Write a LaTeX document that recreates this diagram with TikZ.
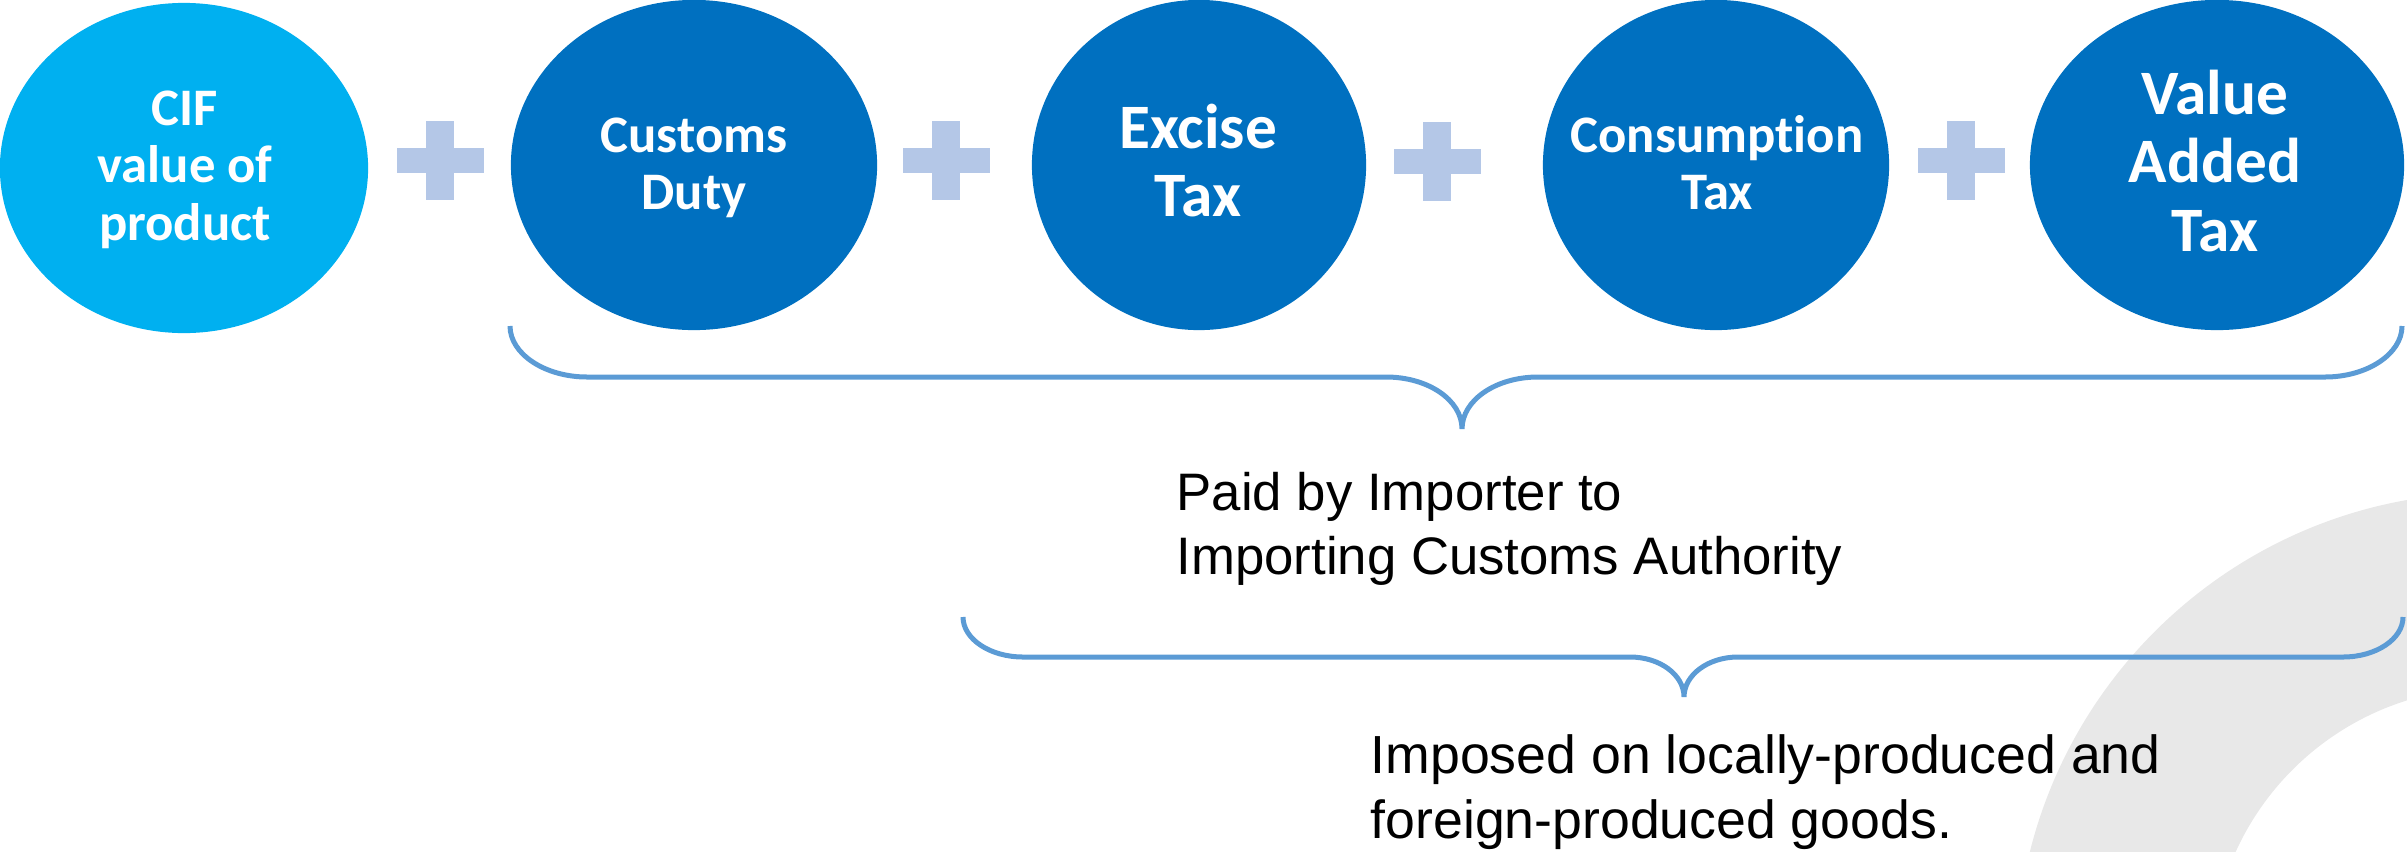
\documentclass[tikz,border=0pt]{standalone}
\usepackage{fontspec}
\usetikzlibrary{shapes.geometric}
\newfontfamily\carl{Carlito}[Ligatures=NoCommon]
\newfontfamily\arialf{Liberation Sans}
\definecolor{cifblue}{HTML}{00B0F0}
\definecolor{taxblue}{HTML}{0070C0}
\definecolor{plusblue}{HTML}{B4C7E7}
\definecolor{braceblue}{HTML}{5B9BD5}
\definecolor{arcgrey}{HTML}{E8E8E8}
\begin{document}
\begin{tikzpicture}[x=0.01cm,y=-0.01cm,
  bubble/.style={ellipse, draw=none, inner sep=0pt, minimum height=3.3cm},
  btext/.style={text=white, inner sep=0pt, anchor=base, font=\carl\bfseries\fontsize{15pt}{16.4pt}\selectfont},
  bigtext/.style={btext, font=\carl\bfseries\fontsize{18pt}{19.6pt}\selectfont},
  note/.style={text=black, inner sep=0pt, anchor=base west, font=\arialf\fontsize{15pt}{18.3pt}\selectfont},
  bracestroke/.style={draw=braceblue, line width=0.05cm},
  plussign/.pic={\fill[plusblue] (-43.5,-12.5) rectangle (43.5,12.5);
                 \fill[plusblue] (-14,-39.5) rectangle (14,39.5);}]
\useasboundingbox (0,0) rectangle (2407,851);
% background ring
\begin{scope}
  \clip (0,0) rectangle (2407,851);
  \fill[arcgrey, even odd rule] (2490,967) circle[radius=4.74cm] (2490,967) circle[radius=2.79cm];
\end{scope}
% bubbles
\node[bubble, fill=cifblue, minimum width=3.68cm] (e1) at (184,168) {};
\node[bubble, fill=taxblue, minimum width=3.66cm] (e2) at (694,165) {};
\node[bubble, fill=taxblue, minimum width=3.34cm] (e3) at (1199,165) {};
\node[bubble, fill=taxblue, minimum width=3.46cm] (e4) at (1716,165) {};
\node[bubble, fill=taxblue, minimum width=3.74cm] (e5) at (2217,165) {};
\node[btext] (t1) at (185,125) {\begin{tabular}[t]{@{}c@{}}CIF\\value of\\product\end{tabular}};
\node[btext] (t2) at (694,152) {\begin{tabular}[t]{@{}c@{}}Customs\\Duty\end{tabular}};
\node[bigtext] (t3) at (1198,148) {\begin{tabular}[t]{@{}c@{}}Excise\\Tax\end{tabular}};
\node[btext] (t4) at (1717,152) {\begin{tabular}[t]{@{}c@{}}Consumption\\Tax\end{tabular}};
\node[bigtext] (t5) at (2215,114) {\begin{tabular}[t]{@{}c@{}}Value\\Added\\Tax\end{tabular}};
% plus signs
\pic at (440,160.5) {plussign};
\pic at (946,160.5) {plussign};
\pic at (1437,161) {plussign};
\pic at (1961,160.5) {plussign};
% braces
\coordinate (b1l) at (510,326);
\coordinate (b1t) at (1462,429);
\coordinate (b1r) at (2402,326);
\draw[bracestroke] (b1l) .. controls (510,354) and (545,377) .. (587,377) -- (1386,377)
  .. controls (1428,377) and (1462,400) .. (b1t)
  .. controls (1462,400) and (1496,377) .. (1538,377) -- (2325,377)
  .. controls (2367,377) and (2402,354) .. (b1r);
\coordinate (b2l) at (963,617);
\coordinate (b2t) at (1684,697);
\coordinate (b2r) at (2403,617);
\draw[bracestroke] (b2l) .. controls (963,639) and (990,657) .. (1023,657) -- (1630,657)
  .. controls (1660,657) and (1684,675) .. (b2t)
  .. controls (1684,675) and (1708,657) .. (1738,657) -- (2343,657)
  .. controls (2376,657) and (2403,639) .. (b2r);
% notes
\node[note] (n1) at (1176,510) {\begin{tabular}[t]{@{}l@{}}Paid by Importer to\\Importing Customs Authority\end{tabular}};
\node[note, font=\arialf\fontsize{15.25pt}{18.5pt}\selectfont] (n2) at (1370,773) {\begin{tabular}[t]{@{}l@{}}Imposed on locally-produced and\\foreign-produced goods.\end{tabular}};
\end{tikzpicture}
\end{document}
